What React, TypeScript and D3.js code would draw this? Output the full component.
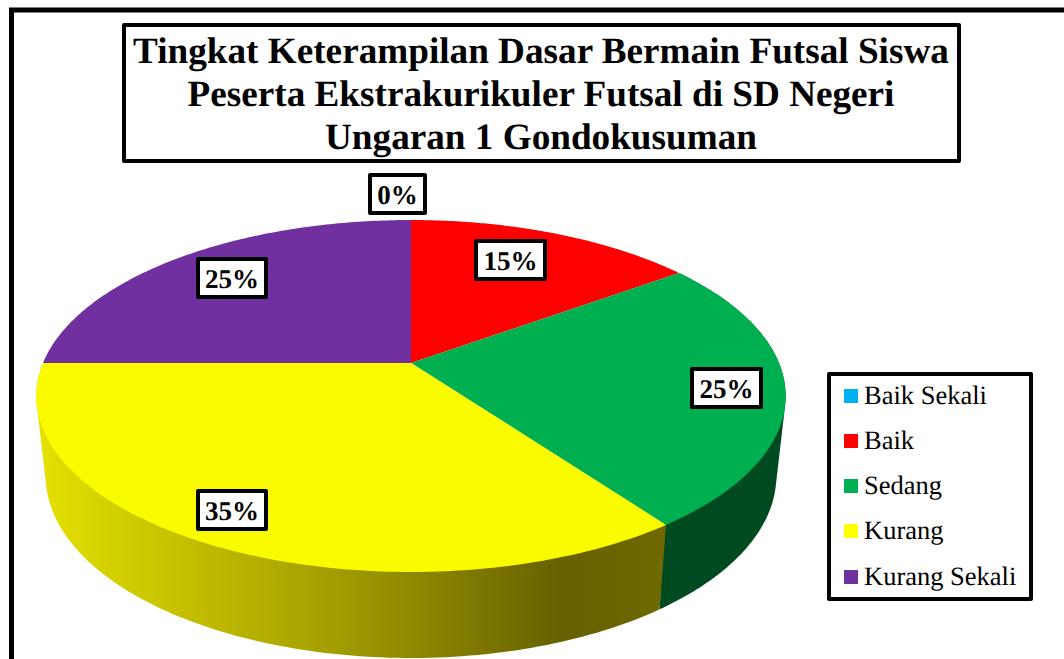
import * as d3 from 'd3';

const categories = ['Baik Sekali', 'Baik', 'Sedang', 'Kurang', 'Kurang Sekali'];
const percentages = [0, 15, 25, 35, 25];
const colors = ['#00B0F0', '#FF0000', '#00B050', '#FFFF00', '#7030A0'];
const faceColors = ['#00B0F0', '#FF0000', '#00B050', '#FBFB00', '#7030A0'];
const sideColors = ['#004a66', '#6b0000', '#004A22', 'url(#yellowSide)', '#2e1444'];
const titleLines = [
  'Tingkat Keterampilan Dasar Bermain Futsal Siswa',
  'Peserta Ekstrakurikuler Futsal di SD Negeri',
  'Ungaran 1 Gondokusuman',
];

const width = 1064;
const height = 659;
const serif = '"Liberation Serif", serif';

// top face: unit circle seen in perspective, apex sits above the ellipse centre
const apex = { x: 411, y: 363 };
const scaleX = 368;
const scaleY = 169.8;
const skew = 0.1875;
const ellipseY = 396;
// bottom face of the pie
const bottomScaleX = 0.975;
const bottomScaleY = 1.034;
const bottomY = 476;

const labelBoxes = [
  { x: 368, y: 173, w: 59 },
  { x: 474, y: 239, w: 73 },
  { x: 690, y: 367, w: 73 },
  { x: 196, y: 489, w: 72 },
  { x: 196, y: 257, w: 72 },
];

type Pt = [number, number];

function topPoint(angle: number): Pt {
  const u = Math.sin(angle);
  const v = -Math.cos(angle);
  const d = 1 - skew * v;
  return [apex.x + (scaleX * u) / d, apex.y + (scaleY * v) / d];
}

function bottomPoint(angle: number): Pt {
  const [x, y] = topPoint(angle);
  return [apex.x + bottomScaleX * (x - apex.x), bottomY + bottomScaleY * (y - ellipseY)];
}

function sweep(a0: number, a1: number, fn: (a: number) => Pt): Pt[] {
  return d3.range(0, 1.0001, 1 / 120).map((t) => fn(a0 + (a1 - a0) * t));
}

const line = d3.line<Pt>();

// only slices facing the viewer show a side wall
function facesFront(a0: number, a1: number) {
  return a1 > Math.PI / 2 + 1e-6 && a0 < (3 * Math.PI) / 2 - 1e-6;
}

export default function App() {
  const slices = d3.pie<number>().sort(null)(percentages);

  return (
    <svg
      width={width}
      height={height}
      viewBox={`0 0 ${width} ${height}`}
      style={{ position: 'absolute', left: 0, top: 0, display: 'block', background: '#fff', textRendering: 'geometricPrecision' }}
    >
      <defs>
        <linearGradient id="yellowSide" gradientUnits="userSpaceOnUse" x1={40} x2={664} y1={0} y2={0}>
          <stop offset="0" stopColor="#e4e000" />
          <stop offset="0.15" stopColor="#cfcb00" />
          <stop offset="0.45" stopColor="#a6a100" />
          <stop offset="0.84" stopColor="#666000" />
          <stop offset="1" stopColor="#6f6900" />
        </linearGradient>
      </defs>

      <path d="M11.5,659V10H1064" fill="none" stroke="#000" strokeWidth={5} />

      {/* sides first, top face covers the inner part of each hull */}
      {slices.map((s, i) =>
        s.value > 0 && facesFront(s.startAngle, s.endAngle) ? (
          <path
            key={categories[i]}
            d={`M${d3
              .polygonHull([
                ...sweep(s.startAngle, s.endAngle, topPoint),
                ...sweep(s.startAngle, s.endAngle, bottomPoint),
              ])!
              .join('L')}Z`}
            fill={sideColors[i]}
          />
        ) : null
      )}
      {slices.map((s, i) =>
        s.value > 0 ? (
          <path
            key={categories[i]}
            d={`M${apex.x},${apex.y}L${line(sweep(s.startAngle, s.endAngle, topPoint))!.slice(1)}Z`}
            fill={faceColors[i]}
          />
        ) : null
      )}

      <rect x={124} y={25} width={835} height={136} fill="#fff" stroke="#000" strokeWidth={4} strokeLinejoin="round" />
      {titleLines.map((t, i) => (
        <text
          key={t}
          x={541}
          y={[63, 106, 149][i]}
          textAnchor="middle"
          fontFamily={serif}
          fontWeight="bold"
          fontSize={37.2}
        >
          {t}
        </text>
      ))}

      {percentages.map((p, i) => (
        <g key={categories[i]}>
          <rect
            x={labelBoxes[i].x + 2}
            y={labelBoxes[i].y + 2}
            width={labelBoxes[i].w - 4}
            height={38}
            fill="#fff"
            stroke="#000"
            strokeWidth={4}
            strokeLinejoin="round"
          />
          <text
            x={labelBoxes[i].x + labelBoxes[i].w / 2}
            y={labelBoxes[i].y + 31}
            textAnchor="middle"
            fontFamily={serif}
            fontWeight="bold"
            fontSize={27}
          >
            {p}%
          </text>
        </g>
      ))}

      <rect x={829} y={374} width={202} height={225} fill="#fff" stroke="#000" strokeWidth={4} strokeLinejoin="round" />
      {categories.map((c, i) => (
        <g key={c} transform={`translate(0,${[389, 434, 479, 524, 570][i]})`}>
          <rect x={844} y={0} width={14} height={14} fill={colors[i]} />
          <text x={864} y={15} fontFamily={serif} fontSize={26.5}>
            {c}
          </text>
        </g>
      ))}
    </svg>
  );
}
